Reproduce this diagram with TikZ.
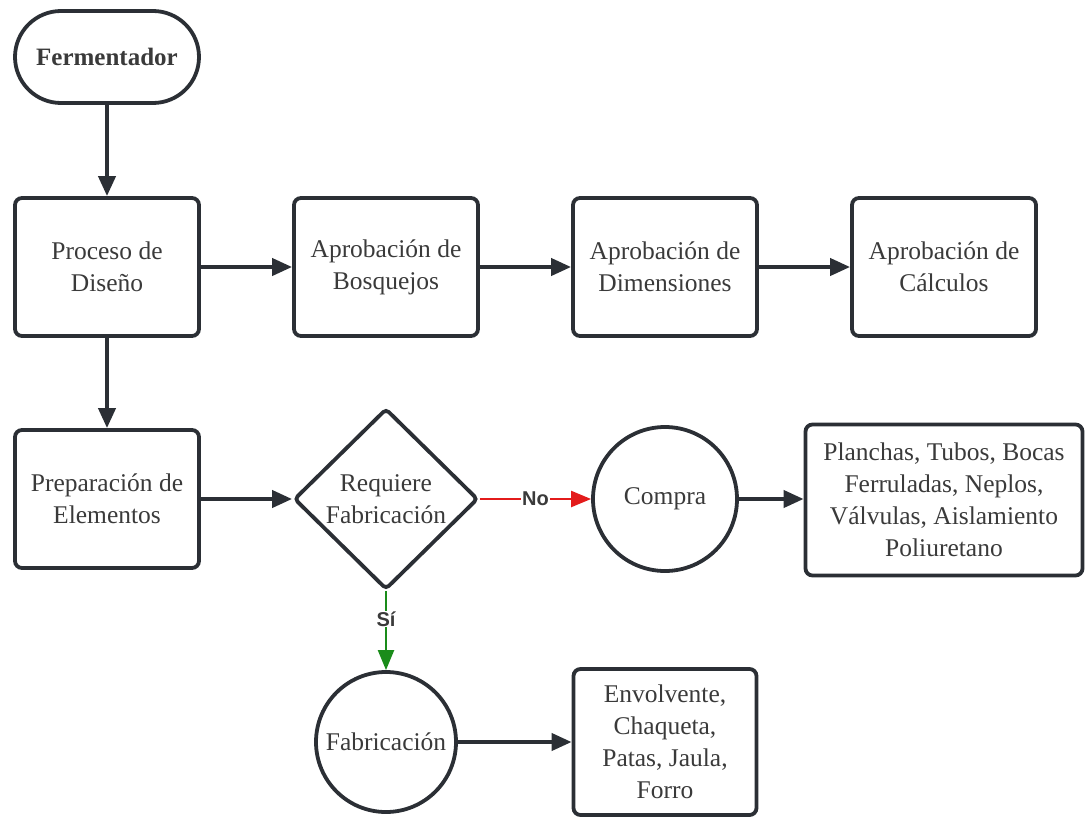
\documentclass[tikz,border=0pt]{standalone}
\usepackage{fontspec}
\setmainfont{Liberation Serif}
\newfontfamily\labelfont{Liberation Sans}
\usetikzlibrary{shapes.geometric,arrows.meta}
\definecolor{ink}{HTML}{2B2F35}
\definecolor{txt}{HTML}{3A3A3A}
\definecolor{noRed}{HTML}{E31B1B}
\definecolor{siGreen}{HTML}{1A8C1A}
\begin{document}
\begin{tikzpicture}[x=1pt,y=-1pt,
  every node/.style={font=\fontsize{25.5}{32}\selectfont, text=txt, align=center},
  box/.style={draw=ink, line width=3.8pt, rounded corners=7pt, minimum width=184pt, minimum height=138pt, inner sep=0pt},
  term/.style={draw=ink, line width=3.8pt, rounded corners=46pt, minimum width=184pt, minimum height=92pt, font=\fontsize{25}{32}\selectfont\bfseries},
  decide/.style={draw=ink, line width=3.8pt, diamond, minimum width=184pt, minimum height=181pt, inner sep=0pt, rounded corners=4pt},
  circ/.style={draw=ink, line width=3.8pt, circle, minimum size=#1, inner sep=0pt},
  flow/.style={draw=ink, line width=4pt, -{Triangle[length=20pt,width=17pt]}},
  tag/.style={font=\labelfont\fontsize{20}{22}\selectfont\bfseries, text=txt, fill=white, inner sep=1pt}
]
\useasboundingbox (0,0) rectangle (1086,819);

% start terminal
\node[term] (ferm) at (107,57) {Fermentador};

% design row
\node[box] (diseno) at (107,267) {Proceso de\\Diseño};
\node[box] (bosq) at (386,267) {Aprobación de\\Bosquejos};
\node[box] (dim) at (665,267) {Aprobación de\\Dimensiones};
\node[box] (calc) at (944,267) {Aprobación de\\Cálculos};

% preparation row
\node[box] (prep) at (107,499) {Preparación de\\Elementos};
\node[decide] (req) at (386,499) {Requiere\\Fabricación};
\node[circ=144pt] (compra) at (665,499) {Compra};
\node[box, minimum width=277pt, minimum height=151pt] (mat) at (944,500) {Planchas, Tubos, Bocas\\Ferruladas, Neplos,\\Válvulas, Aislamiento\\Poliuretano};

% fabrication row
\node[circ=140pt] (fab) at (386,742) {Fabricación};
\node[box, minimum width=183pt, minimum height=146pt] (piezas) at (665,742) {Envolvente,\\Chaqueta,\\Patas, Jaula,\\Forro};

% connectors
\draw[flow] (ferm) -- (diseno);
\draw[flow] (diseno) -- (bosq);
\draw[flow] (bosq) -- (dim);
\draw[flow] (dim) -- (calc);
\draw[flow] (diseno) -- (prep);
\draw[flow] (prep.east) -- (req.west);
\draw[flow, draw=noRed, line width=2.2pt, -{Triangle[length=20pt,width=16pt]}, fill=noRed]
  (req.east) -- node[tag] {No} (compra.west);
\draw[flow] (compra.east) -- (mat.west |- compra.east);
\draw[flow, draw=siGreen, line width=2.2pt, -{Triangle[length=20pt,width=16pt]}, fill=siGreen]
  (req.south) -- node[tag, pos=0.35] {Sí} (fab.north);
\draw[flow] (fab) -- (piezas);
\end{tikzpicture}
\end{document}
